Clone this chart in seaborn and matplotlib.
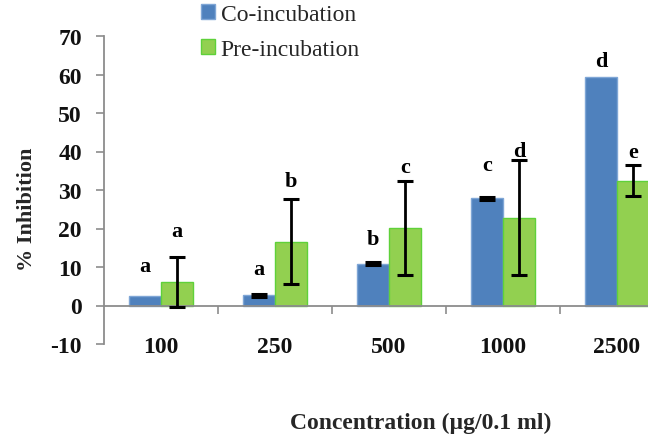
import matplotlib
matplotlib.use("Agg")
import matplotlib.pyplot as plt
from matplotlib.patches import Patch
import seaborn as sns
import pandas as pd

# Inhibition (%) at each concentration, mean and error for both protocols
concentrations = ["100", "250", "500", "1000", "2500"]
series_names = ["Co-incubation", "Pre-incubation"]
co_incubation = [2.5, 2.6, 10.8, 27.8, 59.4]
co_error = [0.0, 0.4, 0.4, 0.3, 0.0]
pre_incubation = [6.1, 16.6, 20.2, 22.8, 32.4]
pre_error = [6.4, 11.1, 12.2, 15.0, 4.0]

# Significance letters and the height at which each is written
co_letters = ["a", "a", "b", "c", "d"]
co_letter_y = [10.2, 9.6, 17.2, 36.5, 63.5]
pre_letters = ["a", "b", "c", "d", "e"]
pre_letter_y = [19.3, 32.3, 35.9, 40.1, 39.8]

y_ticks = [-10, 0, 10, 20, 30, 40, 50, 60, 70]

BLUE = "#4F81BD"
GREEN = "#92D050"
EDGE_BLUE = "#7FA6D6"
EDGE_GREEN = "#5FD13A"
AXIS_GREY = "#8C8C8C"

sns.set_theme(style="white")
plt.rcParams["font.family"] = ["Liberation Serif", "DejaVu Serif"]

df = pd.DataFrame({
    "Concentration": concentrations * 2,
    "Inhibition": co_incubation + pre_incubation,
    "Series": [series_names[0]] * len(concentrations) + [series_names[1]] * len(concentrations),
})

fig = plt.figure(figsize=(6.48, 4.39), dpi=100)
ax = fig.add_axes([104 / 648, 94 / 439, 570 / 648, 308 / 439])

sns.barplot(data=df, x="Concentration", y="Inhibition", hue="Series",
            order=concentrations, hue_order=series_names,
            palette=[BLUE, GREEN], saturation=1, width=0.56, errorbar=None,
            linewidth=1.0, legend=False, ax=ax)

for container, edge in zip(ax.containers, [EDGE_BLUE, EDGE_GREEN]):
    for bar in container:
        bar.set_edgecolor(edge)

# Error bars and letters centred over each bar
for container, vals, errs, letters, ly in zip(
        ax.containers,
        [co_incubation, pre_incubation],
        [co_error, pre_error],
        [co_letters, pre_letters],
        [co_letter_y, pre_letter_y]):
    for bar, v, e, letter, y in zip(container, vals, errs, letters, ly):
        xc = bar.get_x() + bar.get_width() / 2
        if e > 0:
            ax.errorbar(xc, v, yerr=e, fmt="none", ecolor="black",
                        elinewidth=2.0, capsize=5.5, capthick=2.2, zorder=4)
        ax.text(xc, y, letter, ha="center", va="center", fontsize=16,
                fontweight="bold", color="black", zorder=5)

ax.set_xlim(-0.5, 4.5)
ax.set_ylim(-10, 70)
ax.set_yticks(y_ticks)
ax.set_yticklabels([str(t) for t in y_ticks])
ax.set_xticks(range(len(concentrations)))
ax.set_xticklabels(concentrations)
ax.set_xticks([i + 0.5 for i in range(len(concentrations))], minor=True)

for side in ["top", "right"]:
    ax.spines[side].set_visible(False)
ax.spines["bottom"].set_position(("data", 0))
ax.spines["bottom"].set_color(AXIS_GREY)
ax.spines["bottom"].set_linewidth(1.3)
ax.spines["left"].set_color(AXIS_GREY)
ax.spines["left"].set_linewidth(1.3)

ax.tick_params(axis="y", which="major", direction="out", length=6, width=1.2,
               color=AXIS_GREY, pad=10, labelsize=17, left=True)
ax.tick_params(axis="x", which="major", length=0, pad=22, labelsize=17)
ax.tick_params(axis="x", which="minor", direction="out", length=6, width=1.2,
               color=AXIS_GREY, bottom=True)
for lab in ax.get_xticklabels() + ax.get_yticklabels():
    lab.set_fontweight("bold")
    lab.set_color("#111111")

ax.set_ylabel("% Inhibition", fontsize=16, fontweight="bold")
ax.yaxis.set_label_coords(-0.118, 0.44)
ax.set_xlabel("Concentration (µg/0.1 ml)", fontsize=17, fontweight="bold", va="center")
ax.xaxis.set_label_coords(0.556, -0.253)

handles = [Patch(facecolor=BLUE, edgecolor=EDGE_BLUE),
           Patch(facecolor=GREEN, edgecolor=EDGE_GREEN)]
fig.legend(handles, series_names, loc="upper left",
           bbox_to_anchor=(196 / 648, 1.0), frameon=False,
           fontsize=17, handlelength=0.6, handleheight=0.6,
           handletextpad=0.25, labelspacing=0.6, borderpad=0.2,
           borderaxespad=0)

fig.savefig("out.png", dpi=100)
